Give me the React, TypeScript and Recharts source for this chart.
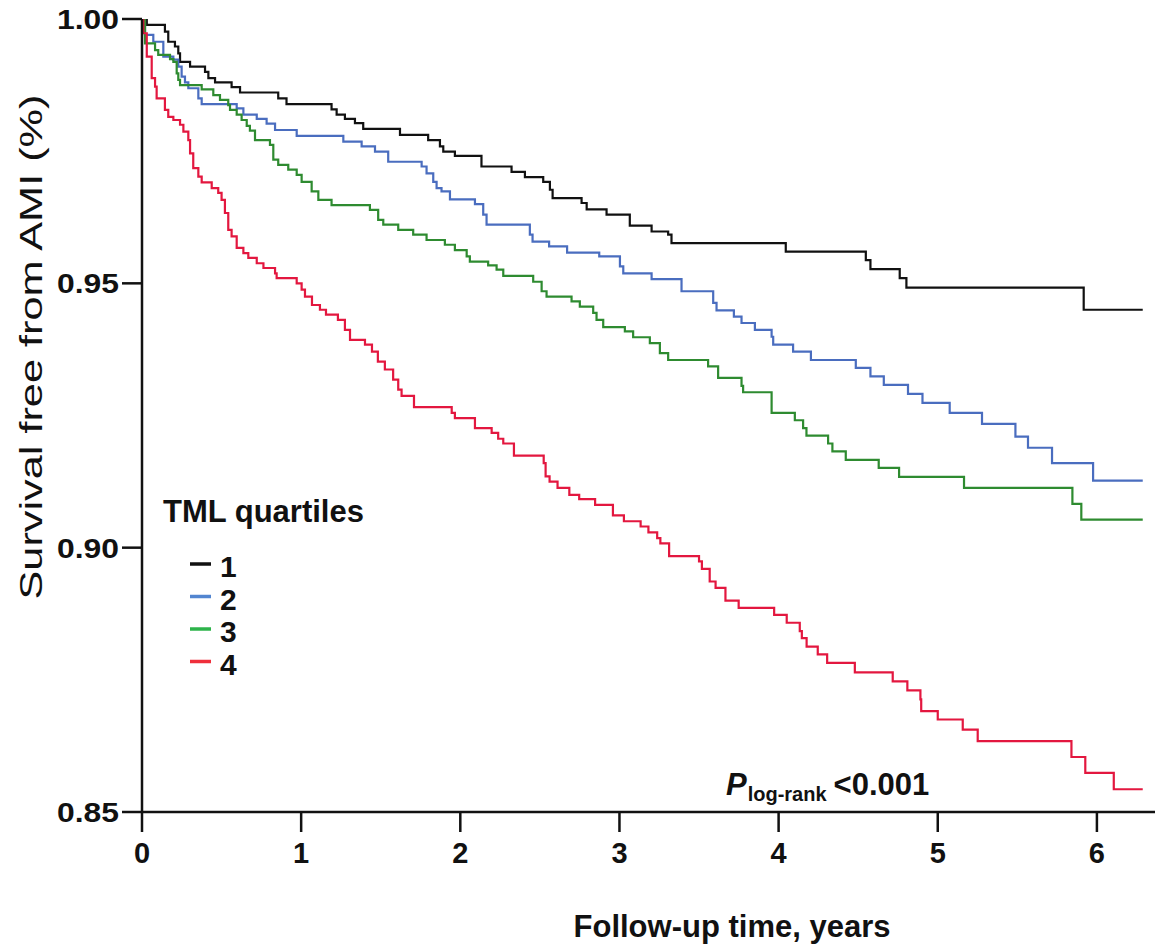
import React from 'react';
import { LineChart, Line, XAxis, YAxis } from 'recharts';

// Kaplan-Meier steps: time (years) -> survival after the drop
const q1Times = [0, 0.03, 0.144, 0.165, 0.207, 0.228, 0.239, 0.302, 0.396, 0.417, 0.459, 0.563, 0.616, 0.856, 0.908, 1.191, 1.223, 1.275, 1.338, 1.39, 1.621, 1.798, 1.872, 1.893, 1.966, 2.133, 2.322, 2.406, 2.521, 2.563, 2.58, 2.762, 2.794, 2.919, 3.065, 3.202, 3.306, 3.327, 4.045, 4.548, 4.577, 4.761, 4.803, 5.917, 6.288];
const q1Surv = [1, 0.9989, 0.9976, 0.9957, 0.9948, 0.9935, 0.9919, 0.991, 0.99, 0.9888, 0.988, 0.9871, 0.9861, 0.985, 0.9839, 0.9829, 0.9819, 0.9811, 0.9803, 0.9792, 0.9781, 0.9771, 0.9759, 0.9749, 0.9741, 0.9721, 0.9711, 0.9701, 0.9692, 0.9677, 0.9661, 0.9652, 0.964, 0.963, 0.9609, 0.9598, 0.9592, 0.9576, 0.956, 0.9544, 0.9527, 0.951, 0.9492, 0.945, 0.945];

const q2Times = [0, 0.019, 0.071, 0.134, 0.197, 0.228, 0.249, 0.27, 0.291, 0.354, 0.375, 0.595, 0.637, 0.721, 0.783, 0.836, 0.972, 1.265, 1.38, 1.464, 1.547, 1.757, 1.788, 1.83, 1.851, 1.882, 1.935, 2.092, 2.144, 2.165, 2.437, 2.454, 2.558, 2.671, 2.873, 3.003, 3.024, 3.202, 3.39, 3.589, 3.61, 3.719, 3.767, 3.851, 3.956, 3.966, 4.091, 4.203, 4.485, 4.577, 4.661, 4.813, 4.904, 5.075, 5.278, 5.488, 5.567, 5.718, 5.976, 6.288];
const q2Surv = [1, 0.997, 0.9957, 0.9929, 0.9923, 0.991, 0.9891, 0.988, 0.9869, 0.985, 0.9839, 0.9831, 0.9819, 0.9811, 0.9802, 0.979, 0.9779, 0.9768, 0.9759, 0.9749, 0.973, 0.9721, 0.9708, 0.9692, 0.968, 0.9674, 0.9659, 0.965, 0.963, 0.9611, 0.9592, 0.9579, 0.957, 0.9558, 0.9551, 0.9532, 0.9519, 0.9508, 0.9485, 0.9463, 0.9449, 0.9437, 0.9425, 0.9412, 0.9399, 0.9384, 0.9371, 0.9355, 0.934, 0.9324, 0.9308, 0.9291, 0.9274, 0.9255, 0.9234, 0.921, 0.9189, 0.916, 0.9127, 0.9127];

const q3Times = [0, 0.019, 0.082, 0.102, 0.176, 0.197, 0.218, 0.228, 0.239, 0.375, 0.448, 0.49, 0.542, 0.553, 0.595, 0.626, 0.658, 0.678, 0.71, 0.804, 0.825, 0.856, 0.919, 0.972, 1.003, 1.066, 1.108, 1.191, 1.432, 1.484, 1.516, 1.61, 1.704, 1.788, 1.903, 1.966, 2.04, 2.06, 2.175, 2.228, 2.27, 2.458, 2.511, 2.542, 2.699, 2.751, 2.835, 2.856, 2.898, 3.034, 3.086, 3.191, 3.254, 3.306, 3.557, 3.62, 3.767, 3.777, 3.956, 4.102, 4.154, 4.175, 4.311, 4.338, 4.422, 4.629, 4.757, 5.165, 5.846, 5.902, 6.288];
const q3Surv = [1, 0.9954, 0.9941, 0.9932, 0.9924, 0.9919, 0.9897, 0.9885, 0.9875, 0.9867, 0.9856, 0.9847, 0.9837, 0.9828, 0.9819, 0.9809, 0.9798, 0.9789, 0.9771, 0.9762, 0.9734, 0.9724, 0.9715, 0.9705, 0.9692, 0.9674, 0.9658, 0.9648, 0.9639, 0.962, 0.9611, 0.9601, 0.9592, 0.9582, 0.9573, 0.9563, 0.9551, 0.9541, 0.9534, 0.9526, 0.9514, 0.9503, 0.9485, 0.9475, 0.9466, 0.9456, 0.9444, 0.9431, 0.9417, 0.9409, 0.9398, 0.9387, 0.9368, 0.9355, 0.9343, 0.9321, 0.9306, 0.9294, 0.9255, 0.9241, 0.9226, 0.9212, 0.9197, 0.9182, 0.9166, 0.9151, 0.9134, 0.9113, 0.9083, 0.9053, 0.9053];

const q4Times = [0, 0.008, 0.03, 0.061, 0.082, 0.092, 0.144, 0.165, 0.197, 0.239, 0.26, 0.291, 0.302, 0.322, 0.354, 0.375, 0.438, 0.479, 0.5, 0.521, 0.542, 0.563, 0.595, 0.637, 0.668, 0.721, 0.763, 0.836, 0.846, 0.972, 1.003, 1.024, 1.068, 1.118, 1.156, 1.231, 1.275, 1.307, 1.401, 1.445, 1.482, 1.526, 1.578, 1.61, 1.631, 1.709, 1.946, 1.966, 2.092, 2.197, 2.238, 2.27, 2.337, 2.524, 2.536, 2.561, 2.611, 2.685, 2.747, 2.847, 2.959, 3.028, 3.133, 3.182, 3.237, 3.257, 3.312, 3.5, 3.518, 3.567, 3.604, 3.666, 3.749, 3.972, 4.051, 4.133, 4.146, 4.176, 4.246, 4.305, 4.479, 4.717, 4.809, 4.891, 4.896, 5.0, 5.157, 5.251, 5.84, 5.927, 6.106, 6.288];
const q4Surv = [1, 0.9973, 0.9929, 0.9888, 0.9872, 0.985, 0.9828, 0.9815, 0.9809, 0.98, 0.9787, 0.9771, 0.9746, 0.9718, 0.9702, 0.9691, 0.968, 0.9671, 0.9658, 0.9633, 0.9601, 0.9589, 0.9567, 0.9557, 0.9548, 0.9538, 0.9529, 0.9519, 0.951, 0.95, 0.9488, 0.9475, 0.9459, 0.945, 0.9441, 0.9431, 0.9412, 0.9393, 0.9384, 0.9371, 0.9352, 0.9337, 0.9318, 0.9299, 0.9287, 0.9266, 0.9255, 0.9245, 0.9226, 0.9217, 0.9206, 0.9197, 0.9174, 0.916, 0.9135, 0.9125, 0.9113, 0.91, 0.9092, 0.9081, 0.9061, 0.905, 0.904, 0.9029, 0.9018, 0.9008, 0.8984, 0.8974, 0.896, 0.8936, 0.8924, 0.89, 0.8886, 0.8873, 0.8858, 0.8842, 0.8829, 0.8813, 0.8798, 0.8782, 0.8764, 0.8747, 0.873, 0.8713, 0.8691, 0.8675, 0.8656, 0.8634, 0.8604, 0.8574, 0.8543, 0.8543];

const quartiles = ['1', '2', '3', '4'];
const lineColors = ['#111111', '#4a6dbf', '#2e8b30', '#e3173f'];
const legendColors = ['#111111', '#5285d0', '#2db34a', '#ef2f3b'];
const xTicks = [0, 1, 2, 3, 4, 5, 6];
const yTicks = [0.85, 0.9, 0.95, 1.0];

const FONT = '"Liberation Sans", Arial, sans-serif';

const toRows = (times: number[], surv: number[]) => times.map((t, i) => ({ t, s: surv[i] }));
const series = [
  toRows(q1Times, q1Surv),
  toRows(q2Times, q2Surv),
  toRows(q3Times, q3Surv),
  toRows(q4Times, q4Surv),
];

const YTick = ({ x, y, payload }: any) => (
  <text x={x} y={y} dy={10} textAnchor="end" fontFamily={FONT} fontWeight="bold" fontSize={27}
    fill="#111" textLength={62} lengthAdjust="spacingAndGlyphs">
    {Number(payload.value).toFixed(2)}
  </text>
);

const XTick = ({ x, y, payload }: any) => (
  <text x={x} y={y} dy={31} textAnchor="middle" fontFamily={FONT} fontWeight="bold" fontSize={29} fill="#111">
    {payload.value}
  </text>
);

export default function App() {
  return (
    <div style={{ position: 'absolute', left: 0, top: 0, width: 1155, height: 949, background: '#fff' }}>
      <LineChart width={1155} height={949} margin={{ top: 19, right: 0, left: 0, bottom: 0 }}>
        <XAxis
          type="number"
          dataKey="t"
          domain={[0, 6.365]}
          ticks={xTicks}
          allowDataOverflow
          height={137}
          tickSize={20}
          tickMargin={0}
          tick={<XTick />}
          axisLine={{ stroke: '#111', strokeWidth: 2.5 }}
          tickLine={{ stroke: '#111', strokeWidth: 2.5 }}
        />
        <YAxis
          type="number"
          domain={[0.85, 1.0]}
          ticks={yTicks}
          allowDataOverflow
          width={142}
          tickSize={20}
          tickMargin={3}
          tick={<YTick />}
          axisLine={{ stroke: '#111', strokeWidth: 2.5 }}
          tickLine={{ stroke: '#111', strokeWidth: 2.5 }}
        />
        {series.map((rows, i) => (
          <Line
            key={quartiles[i]}
            data={rows}
            dataKey="s"
            name={quartiles[i]}
            type="stepAfter"
            stroke={lineColors[i]}
            strokeWidth={2.2}
            dot={false}
            activeDot={false}
            isAnimationActive={false}
          />
        ))}
      </LineChart>
      <svg width={1155} height={949} style={{ position: 'absolute', left: 0, top: 0, pointerEvents: 'none' }}>
        <text transform="translate(42, 347) rotate(-90)" textAnchor="middle" fontFamily={FONT} fontSize={31}
          fill="#111" textLength={505} lengthAdjust="spacingAndGlyphs">
          Survival free from AMI (%)
        </text>
        <text x={732} y={937} textAnchor="middle" fontFamily={FONT} fontWeight="bold" fontSize={31} fill="#111">
          Follow-up time, years
        </text>
        <text x={726} y={795} fontFamily={FONT} fontWeight="bold" fontSize={31} fill="#111">
          <tspan fontStyle="italic">P</tspan>
          <tspan fontSize={20} dy={6} dx={1}>log-rank</tspan>
          <tspan fontSize={31} dy={-6} dx={7}>&lt;0.001</tspan>
        </text>
        {/* legend */}
        <text x={163} y={522} fontFamily={FONT} fontWeight="bold" fontSize={31} fill="#111">TML quartiles</text>
        {quartiles.map((q, i) => (
          <g key={q}>
            <line x1={190} x2={211} y1={564 + i * 32.5} y2={564 + i * 32.5} stroke={legendColors[i]} strokeWidth={3.5} />
            <text x={220} y={577 + i * 32.5} fontFamily={FONT} fontWeight="bold" fontSize={30} fill="#111">{q}</text>
          </g>
        ))}
      </svg>
    </div>
  );
}
